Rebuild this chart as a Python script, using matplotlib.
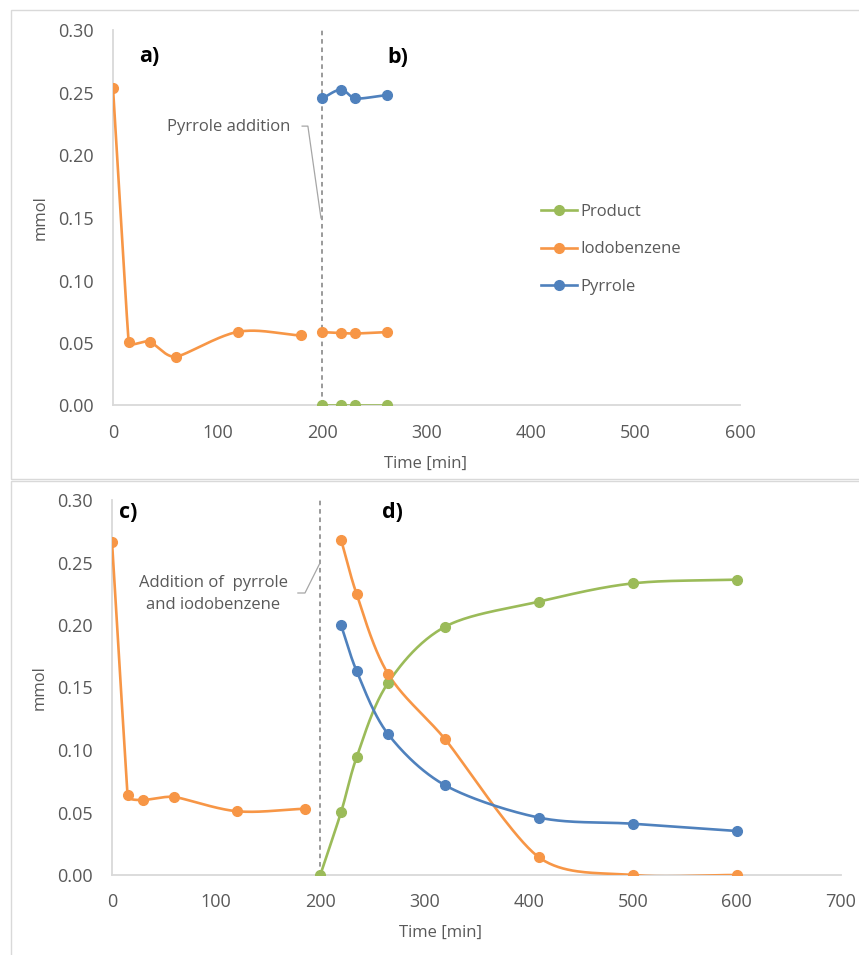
# Reaction profiles: pyrrole / iodobenzene coupling, two addition experiments.

import numpy as np
import matplotlib.pyplot as plt
from matplotlib.lines import Line2D
from matplotlib.patches import Rectangle

plt.rcParams["font.family"] = ["Open Sans", "DejaVu Sans"]

GREEN = "#9BBB59"
ORANGE = "#F79646"
BLUE = "#4F81BD"
GREY_TXT = "#595959"
GREY_AX = "#D9D9D9"

# --- top experiment: pyrrole added at 200 min ---
t_a = [0, 15, 35, 60, 120, 180]
iodo_a = [0.254, 0.051, 0.051, 0.039, 0.059, 0.056]

t_b = [200, 218, 232, 262]
iodo_b = [0.0587, 0.058, 0.0576, 0.0587]
pyrrole_b = [0.2456, 0.2526, 0.2456, 0.2483]
product_b = [0.0, 0.0, 0.0, 0.0]

# --- bottom experiment: pyrrole + iodobenzene added at 200 min ---
t_c = [0, 15, 30, 60, 120, 185]
iodo_c = [0.2667, 0.0637, 0.060, 0.0624, 0.051, 0.053]

t_d = [220, 235, 265, 320, 410, 500, 600]
iodo_d = [0.268, 0.2245, 0.161, 0.1085, 0.0141, 0.0, 0.0]
pyrrole_d = [0.1997, 0.163, 0.1128, 0.0717, 0.0459, 0.041, 0.0352]
t_prod_d = [200, 220, 235, 265, 320, 410, 500, 600]
product_d = [0.0, 0.0504, 0.0944, 0.1536, 0.1987, 0.2187, 0.2333, 0.2363]

addition_time = 200


def smooth(x, y, xscale, yscale, n=40):
    """Bezier smoothing through the points. Tangent at each point follows the
    neighbours' chord, its length capped by the shorter adjacent segment
    (screen-like units), so steep drops stay straight and don't overshoot."""
    pts = np.column_stack([np.asarray(x, float) * xscale,
                           np.asarray(y, float) * yscale])
    npts = len(pts)
    tang = np.zeros_like(pts)
    for i in range(1, npts - 1):
        chord = pts[i + 1] - pts[i - 1]
        norm = np.linalg.norm(chord)
        if norm > 0:
            m = min(np.linalg.norm(pts[i] - pts[i - 1]),
                    np.linalg.norm(pts[i + 1] - pts[i])) / 3
            tang[i] = chord / norm * m
    out = [pts[0]]
    t = np.linspace(0, 1, n)[1:, None]
    for i in range(npts - 1):
        p1, p2 = pts[i], pts[i + 1]
        c1 = p1 + tang[i] if i > 0 else p1 + (p2 - p1) / 3
        c2 = p2 - tang[i + 1] if i + 1 < npts - 1 else p2 - (p2 - p1) / 3
        seg = ((1 - t) ** 3 * p1 + 3 * (1 - t) ** 2 * t * c1
               + 3 * (1 - t) * t ** 2 * c2 + t ** 3 * p2)
        out.extend(seg)
    out = np.array(out)
    return out[:, 0] / xscale, out[:, 1] / yscale


def series(ax, x, y, color, xscale):
    sx, sy = smooth(x, y, xscale, 1250)
    ax.plot(sx, sy, color=color, lw=1.9, solid_capstyle="round", zorder=3)
    ax.plot(x, y, "o", color=color, ms=7, zorder=4)


def style(ax, xmax):
    ax.set_xlim(0, xmax)
    ax.set_ylim(0, 0.30)
    ax.set_xticks(np.arange(0, xmax + 1, 100))
    ax.set_yticks(np.arange(0, 0.31, 0.05))
    ax.yaxis.set_major_formatter(plt.FormatStrFormatter("%.2f"))
    for s in ("top", "right"):
        ax.spines[s].set_visible(False)
    for s in ("left", "bottom"):
        ax.spines[s].set_color(GREY_AX)
        ax.spines[s].set_linewidth(1.3)
    ax.tick_params(length=0, labelsize=13, labelcolor=GREY_TXT)
    ax.tick_params(axis="x", pad=13)
    ax.tick_params(axis="y", pad=14)
    ax.set_ylabel("mmol", fontsize=12, color=GREY_TXT, labelpad=7)
    ax.set_xlabel("Time [min]", fontsize=12, color=GREY_TXT)
    ax.axvline(addition_time, color="#7F7F7F", lw=1.1, ls=(0, (3, 2.5)), zorder=2)


fig = plt.figure(figsize=(8.59, 9.55), dpi=100)

# panel frames
fig.patches.append(Rectangle((11 / 859, 1 - 479 / 955), 1.0, 469 / 955,
                             transform=fig.transFigure, fill=False,
                             edgecolor=GREY_AX, lw=1.0))
fig.patches.append(Rectangle((11 / 859, -0.05), 1.0, 1 - 481 / 955 + 0.05,
                             transform=fig.transFigure, fill=False,
                             edgecolor=GREY_AX, lw=1.0))

ax1 = fig.add_axes([113 / 859, 549.5 / 955, 627 / 859, 375 / 955])
ax2 = fig.add_axes([112 / 859, 80 / 955, 729 / 859, 375 / 955])

style(ax1, 600)
style(ax2, 700)
ax1.xaxis.set_label_coords(0.498, -0.133)
ax2.xaxis.set_label_coords(0.45, -0.133)

# top panel
series(ax1, t_a, iodo_a, ORANGE, 627 / 600)
series(ax1, t_b, product_b, GREEN, 627 / 600)
series(ax1, t_b, iodo_b, ORANGE, 627 / 600)
series(ax1, t_b, pyrrole_b, BLUE, 627 / 600)

ax1.text(35, 0.279, "a)", fontsize=15.5, fontweight="bold", ha="center", va="center")
ax1.text(273, 0.278, "b)", fontsize=15.5, fontweight="bold", ha="center", va="center")
ax1.text(111, 0.2225, "Pyrrole addition", fontsize=12, color=GREY_TXT,
         ha="center", va="center")
ax1.plot([181, 186.5, 199], [0.2235, 0.2235, 0.150], color="#A6A6A6", lw=0.9)

handles = [Line2D([], [], color=c, lw=1.9, marker="o", ms=7)
           for c in (GREEN, ORANGE, BLUE)]
fig.legend(handles, ["Product", "Iodobenzene", "Pyrrole"],
           loc="center left", bbox_to_anchor=(533 / 859, 1 - 249.5 / 955),
           frameon=False, fontsize=12, labelcolor=GREY_TXT, borderpad=0,
           handlelength=2.15, handletextpad=0.2, labelspacing=1.27)

# bottom panel
series(ax2, t_c, iodo_c, ORANGE, 729 / 700)
series(ax2, t_prod_d, product_d, GREEN, 729 / 700)
series(ax2, t_d, iodo_d, ORANGE, 729 / 700)
series(ax2, t_d, pyrrole_d, BLUE, 729 / 700)

ax2.text(15.5, 0.29, "c)", fontsize=15.5, fontweight="bold", ha="center", va="center")
ax2.text(269, 0.29, "d)", fontsize=15.5, fontweight="bold", ha="center", va="center")
ax2.text(97, 0.2248, "Addition of  pyrrole\nand iodobenzene", fontsize=12,
         color=GREY_TXT, ha="center", va="center", linespacing=1.45)
ax2.plot([178.5, 185.3, 199.7], [0.2256, 0.2256, 0.2496], color="#A6A6A6", lw=0.9)

fig.savefig("out.png", dpi=100)
